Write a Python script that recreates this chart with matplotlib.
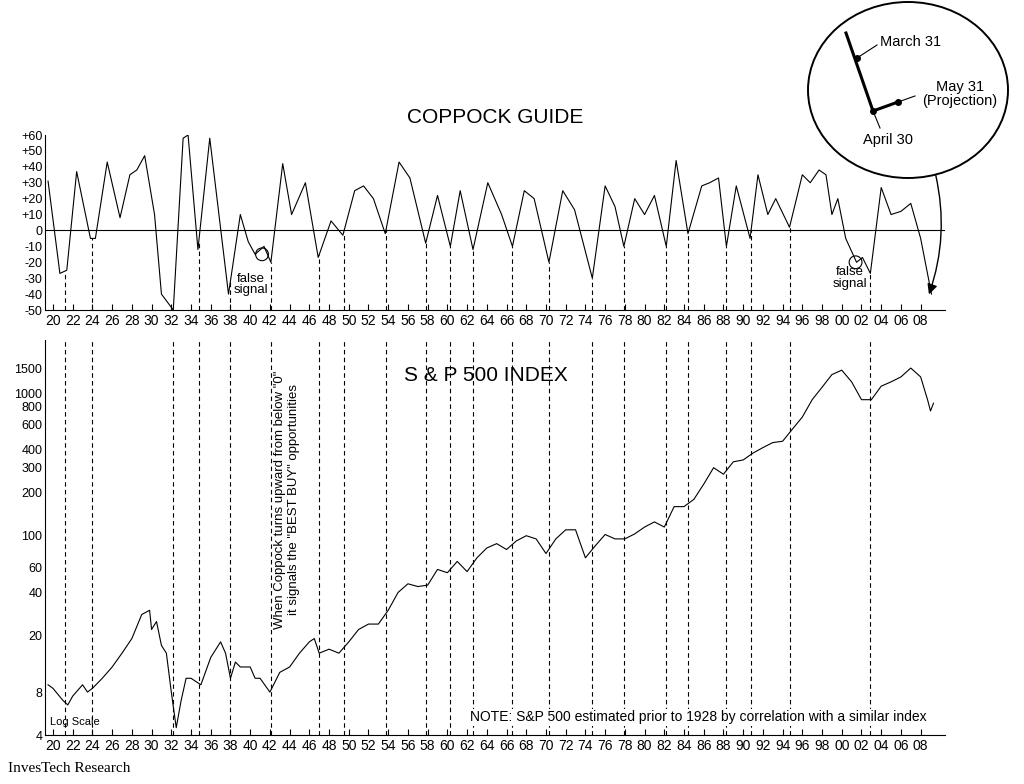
import matplotlib
matplotlib.use("Agg")
import matplotlib.pyplot as plt
import numpy as np
from matplotlib.patches import Ellipse, FancyArrowPatch
from matplotlib.lines import Line2D

# Coppock guide turning points (year, value)
cop_years = [1919.5,1920.7,1921.4,1922.4,1923.8,1924.3,1925.5,1926.8,1927.8,1928.5,1929.3,1930.3,1931.0,1932.2,
             1933.2,1933.7,1934.7,1935.9,1937.8,1939.0,1939.8,1940.5,1941.4,1942.1,1943.3,1944.2,1945.6,1946.9,
             1948.2,1949.4,1950.6,1951.5,1952.5,1953.7,1955.1,1956.2,1957.8,1959.0,1960.3,1961.3,1962.6,1964.1,
             1965.5,1966.6,1967.8,1968.8,1970.3,1971.7,1972.9,1974.7,1976.0,1977.0,1977.9,1979.0,1980.0,1981.0,
             1982.2,1983.2,1984.4,1985.8,1986.6,1987.5,1988.3,1989.3,1990.7,1991.5,1992.5,1993.3,1994.7,1996.0,
             1996.8,1997.7,1998.4,1999.0,1999.6,2000.4,2001.5,2002.1,2002.9,2004.0,2005.0,2006.0,2007.0,2008.0,2009.1]
cop_vals = [31,-27,-25,37,-5,-5,43,8,35,38,47,10,-40,-50,
            58,60,-12,58,-40,10,-7,-15,-10,-20,42,10,30,-17,
            6,-3,25,28,20,-2,43,33,-8,22,-10,25,-12,30,
            10,-10,25,20,-20,25,13,-30,28,15,-10,20,10,22,
            -10,44,-2,28,30,33,-10,28,-5,35,10,20,2,35,
            30,38,35,10,20,-5,-20,-17,-27,27,10,12,17,-5,-40]

# S&P 500 index (year, value)
sp_years = [1919.5,1920,1921,1921.5,1922,1923,1923.5,1924,1925,1926,1927,1928,1929,1929.8,1930,1930.5,1931,1931.5,
            1932,1932.5,1933,1933.5,1934,1935,1936,1937,1937.5,1938,1938.5,1939,1940,1940.5,1941,1942,1943,1944,
            1945,1946,1946.5,1947,1948,1949,1950,1951,1952,1953,1954,1955,1956,1957,1958,1959,1960,1961,1962,1963,
            1964,1965,1966,1967,1968,1969,1970,1971,1972,1973,1974,1975,1976,1977,1978,1979,1980,1981,1982,1983,
            1984,1985,1986,1987,1988,1989,1990,1991,1992,1993,1994,1995,1996,1997,1998,1999,2000,2001,2002,2003,
            2004,2005,2006,2007,2008,2008.7,2009.0,2009.3]
sp_vals = [9,8.5,7,6.5,7.5,9,8,8.5,10,12,15,19,28,30,22,25,17,15,
           8,4.5,7,10,10,9,14,18,15,10,13,12,12,10,10,8,11,12,
           15,18,19,15,16,15,18,22,24,24,30,40,46,44,45,58,55,66,56,70,
           82,88,80,92,100,95,75,95,110,110,70,85,102,95,95,103,115,125,115,160,
           160,180,230,300,270,330,340,380,415,450,460,560,680,900,1100,1350,1450,1200,900,900,
           1120,1200,1300,1500,1300,900,750,850]

signal_years = [1921.2,1924.0,1932.2,1934.8,1938.0,1942.1,1947.0,1949.5,1953.8,1957.8,1960.3,1962.6,1966.6,
                1970.3,1974.7,1977.9,1982.2,1984.4,1988.3,1990.8,1994.7,2002.9]

xt_years = list(range(1920, 2009, 2))
xt_labels = ["%02d" % (y % 100) for y in xt_years]
cop_ticks = [60,50,40,30,20,10,0,-10,-20,-30,-40,-50]
cop_tick_labels = ["+60","+50","+40","+30","+20","+10","0","-10","-20","-30","-40","-50"]
sp_ticks = [4,8,20,40,60,100,200,300,400,600,800,1000,1500]

W, H = 1024, 784
fig = plt.figure(figsize=(10.24, 7.84), dpi=100)
plt.rcParams['font.family'] = ['Liberation Sans', 'DejaVu Sans']
xmin, xmax = 1919.19, 2010.47

ax1 = fig.add_axes([45/W, 1-310/H, 900/W, 175/H])
ax2 = fig.add_axes([45/W, 1-735/H, 900/W, 395/H])

for ax in (ax1, ax2):
    ax.set_xlim(xmin, xmax)
    for s in ("top", "right"):
        ax.spines[s].set_visible(False)
    ax.set_xticks(xt_years)
    ax.set_xticklabels(xt_labels, fontsize=10)
    ax.tick_params(direction="in", length=4, width=0.8, labelsize=10, pad=3)

ax1.plot(cop_years, cop_vals, color="black", lw=0.8)
ax1.axhline(0, color="black", lw=0.8)
ax1.set_ylim(-50, 60)
ax1.set_yticks(cop_ticks)
ax1.set_yticklabels(cop_tick_labels, fontsize=9)
ax1.tick_params(axis="y", length=0, pad=2)
ax1.set_title("COPPOCK GUIDE", fontsize=15, y=1.02)

ax2.plot(sp_years, sp_vals, color="black", lw=0.8)
ax2.set_yscale("log")
ax2.set_ylim(4, 2360)
ax2.set_yticks(sp_ticks)
ax2.set_yticklabels([str(t) for t in sp_ticks], fontsize=9)
ax2.yaxis.set_minor_locator(matplotlib.ticker.NullLocator())
ax2.tick_params(axis="y", length=0, pad=2)
ax2.text(0.49, 0.91, "S & P 500 INDEX", transform=ax2.transAxes, fontsize=15, ha="center", va="center")

# dashed signal lines
cy = np.interp(signal_years, cop_years, cop_vals)
for yr, v in zip(signal_years, cy):
    ax1.plot([yr, yr], [-50, v], ls=(0, (4, 3)), color="black", lw=0.8, clip_on=False)
    ax2.plot([yr, yr], [4, 2360], ls=(0, (4, 3)), color="black", lw=0.8)

# false signals
ax1.add_patch(Ellipse((1941.2, -15), 1.3, 8, fill=False, lw=0.8))
ax1.text(1940.1, -34, "false\nsignal", ha="center", va="center", fontsize=9.5, linespacing=0.95)
ax1.add_patch(Ellipse((2001.4, -20), 1.3, 8, fill=False, lw=0.8))
ax1.text(2000.8, -30, "false\nsignal", ha="center", va="center", fontsize=9.5, linespacing=0.95)

ax2.text(1943.7, 1450, 'When Coppock turns upward from below "0"\nit signals the "BEST BUY" opportunities',
         rotation=90, ha="center", va="top", fontsize=9.5)
ax2.text(0.005, 0.025, "Log Scale", transform=ax2.transAxes, fontsize=8)
ax2.text(0.98, 0.035, "NOTE: S&P 500 estimated prior to 1928 by correlation with a similar index",
         transform=ax2.transAxes, fontsize=10, ha="right", zorder=5,
         bbox=dict(facecolor="white", edgecolor="none", pad=1))
fig.text(8/W, 1-768/H, "InvesTech Research", fontsize=11, family=["Liberation Serif"], va="center")

# inset ellipse
fig.patches.append(Ellipse((908/W, 1-90/H), 200/W, 176/H, transform=fig.transFigure, fill=False, lw=1.4, color="black"))
fig.lines.append(Line2D([846/W, 873/W, 898/W], [1-33/H, 1-111/H, 1-102/H], transform=fig.transFigure, color="black", lw=2.2))
fig.lines.append(Line2D([857/W, 873/W, 898/W], [1-58/H, 1-111/H, 1-102/H], transform=fig.transFigure, ls="none", marker="o", ms=4, color="black"))
fig.lines.append(Line2D([857/W, 877/W], [1-58/H, 1-45/H], transform=fig.transFigure, color="black", lw=0.8))
fig.lines.append(Line2D([873/W, 880/W], [1-111/H, 1-128/H], transform=fig.transFigure, color="black", lw=0.8))
fig.lines.append(Line2D([898/W, 915/W], [1-102/H, 1-96/H], transform=fig.transFigure, color="black", lw=0.8))
fig.text(880/W, 1-42/H, "March 31", fontsize=10.5, va="center")
fig.text(960/W, 1-94/H, "May 31\n(Projection)", fontsize=10.5, va="center", ha="center", linespacing=1.0)
fig.text(888/W, 1-140/H, "April 30", fontsize=10.5, va="center", ha="center")
fig.patches.append(FancyArrowPatch((935/W, 1-172/H), (928/W, 1-297/H), transform=fig.transFigure,
                                   connectionstyle="arc3,rad=-0.15", arrowstyle="-|>,head_length=6,head_width=3",
                                   color="black", lw=1))

fig.savefig("out.png", dpi=100)
